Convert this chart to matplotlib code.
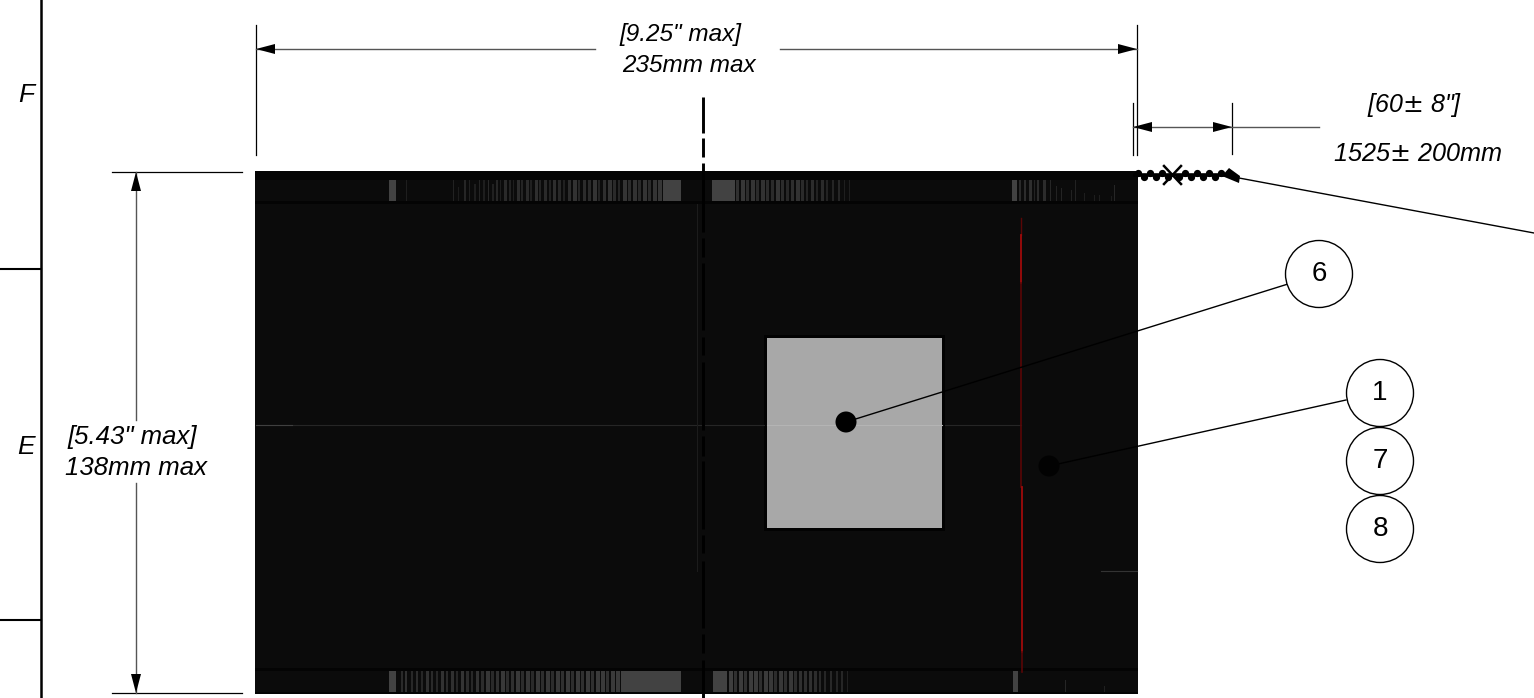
"""Recreates the cable assembly drawing sheet (pixel coordinates, y down)."""

import matplotlib
matplotlib.use("Agg")
import matplotlib.pyplot as plt
from matplotlib.patches import Circle, Rectangle

plt.rcParams["font.family"] = ["Liberation Sans", "DejaVu Sans"]

WIDTH, HEIGHT = 1534, 698

# Drawing values
zone_labels = ["F", "E"]
zone_label_y = [95, 447]
zone_dividers = [269, 620]

balloon_labels = ["6", "1", "7", "8"]
balloon_x = [1319, 1380, 1380, 1380]
balloon_y = [274, 393, 461, 529]

# Solid lighter blocks in the top and bottom bands
top_blocks_x = [389, 663, 712, 1012]
top_blocks_w = [7, 18, 23, 5]
bottom_blocks_x = [389, 621, 713, 1013]
bottom_blocks_w = [7, 60, 14, 5]

# Thin stripes: start, width, height, grey level
top_stripes_x = [406, 453, 458, 464, 469, 474, 479, 483, 488, 492, 496, 500, 504, 509, 513,
                 517, 521, 526, 530, 535, 539, 544, 549, 553, 558, 563, 568, 573, 578, 583,
                 588, 593, 598, 603, 608, 613, 618, 623, 628, 633, 638, 643, 648, 653, 658,
                 736, 741, 746, 751, 756, 761, 766, 771, 776, 781, 786, 791, 796, 801, 806,
                 811, 816, 821, 826, 832, 838, 844, 849,
                 1019, 1024, 1029, 1034, 1037, 1043, 1050, 1056, 1061, 1071, 1075, 1084,
                 1094, 1099, 1111, 1114]
top_stripes_w = [1, 1, 1, 2, 1, 2, 1, 2, 1, 2, 2, 1, 3, 2, 1,
                 3, 2, 3, 2, 3, 2, 3, 2, 3, 3, 2, 3, 4, 2, 3,
                 3, 4, 2, 3, 4, 3, 2, 4, 3, 4, 3, 4, 3, 4, 4,
                 3, 4, 3, 4, 3, 4, 3, 3, 4, 3, 3, 3, 4, 3, 2,
                 3, 2, 3, 2, 2, 2, 1, 1,
                 2, 2, 3, 1, 2, 3, 1, 1, 1, 1, 1, 1,
                 1, 1, 1, 1]
top_stripes_h = [21, 21, 14, 21, 21, 17, 21, 21, 21, 17, 21, 21, 21, 21, 21,
                 21, 21, 21, 21, 21, 21, 21, 21, 21, 21, 21, 21, 21, 21, 21,
                 21, 21, 21, 21, 21, 21, 21, 21, 21, 21, 21, 21, 21, 21, 21,
                 21, 21, 21, 21, 21, 21, 21, 21, 21, 21, 21, 21, 21, 21, 21,
                 21, 21, 21, 21, 21, 21, 21, 21,
                 21, 21, 21, 21, 21, 21, 21, 15, 13, 11, 21, 8,
                 6, 6, 5, 16]
top_stripes_g = ["#1e", "#22", "#1c", "#26", "#20", "#1e", "#24", "#1e", "#28", "#20", "#26", "#1e", "#2a", "#22", "#1e",
                 "#2c", "#24", "#2a", "#20", "#2e", "#24", "#2a", "#22", "#2e", "#28", "#20", "#2c", "#32", "#26", "#2c",
                 "#2a", "#34", "#24", "#2e", "#32", "#2a", "#26", "#34", "#2c", "#32", "#2a", "#34", "#2c", "#34", "#36",
                 "#30", "#36", "#2c", "#34", "#2a", "#32", "#2c", "#2a", "#34", "#2c", "#28", "#2e", "#32", "#2a", "#24",
                 "#2c", "#22", "#2a", "#22", "#24", "#26", "#1e", "#1e",
                 "#2a", "#2c", "#2e", "#22", "#2a", "#2c", "#26", "#22", "#24", "#22", "#22", "#1e",
                 "#1e", "#1e", "#1c", "#26"]

bottom_stripes_x = [401, 405, 411, 416, 421, 426, 431, 436, 441, 446, 451, 456, 461, 466, 471,
                    476, 481, 486, 491, 496, 501, 506, 511, 516, 521, 526, 531, 536, 541, 546,
                    551, 556, 561, 566, 571, 576, 581, 586, 591, 596, 601, 606, 611, 616,
                    729, 734, 739, 744, 749, 754, 759, 764, 769, 774, 779, 784, 789, 794, 799,
                    804, 809, 814, 819, 824, 830, 836, 841, 847,
                    1065, 1104]
bottom_stripes_w = [2, 2, 2, 2, 2, 3, 2, 2, 3, 2, 3, 2, 3, 3, 2,
                    3, 3, 4, 3, 3, 4, 3, 3, 4, 3, 4, 3, 4, 3, 4,
                    3, 4, 3, 4, 3, 4, 3, 4, 3, 4, 4, 3, 4, 4,
                    4, 3, 4, 3, 4, 4, 3, 4, 4, 3, 4, 3, 4, 3, 3,
                    3, 3, 3, 2, 2, 2, 2, 2, 1,
                    1, 1]
bottom_stripes_h = [21, 21, 21, 21, 21, 21, 21, 21, 21, 21, 21, 21, 21, 21, 21,
                    21, 21, 21, 21, 21, 21, 21, 21, 21, 21, 21, 21, 21, 21, 21,
                    21, 21, 21, 21, 21, 21, 21, 21, 21, 21, 21, 21, 21, 21,
                    21, 21, 21, 21, 21, 21, 21, 21, 21, 21, 21, 21, 21, 21, 21,
                    21, 21, 21, 21, 21, 21, 21, 21, 21,
                    12, 6]
bottom_stripes_g = ["#2a", "#30", "#28", "#2c", "#26", "#30", "#2a", "#26", "#32", "#2a", "#30", "#26", "#34", "#2c", "#28",
                    "#32", "#2c", "#36", "#2a", "#30", "#38", "#2c", "#30", "#38", "#2c", "#36", "#2a", "#38", "#2e", "#38",
                    "#2c", "#38", "#30", "#3a", "#2e", "#3a", "#30", "#3a", "#30", "#3a", "#3a", "#30", "#3a", "#3a",
                    "#3e", "#30", "#3c", "#30", "#3c", "#3a", "#2e", "#3a", "#38", "#2c", "#38", "#2e", "#38", "#2c", "#30",
                    "#2e", "#30", "#2c", "#28", "#26", "#28", "#24", "#26", "#20",
                    "#26", "#20"]

cable_upper_x = [1138, 1150, 1162, 1185, 1197, 1209, 1221]
cable_lower_x = [1144, 1156, 1168, 1179, 1191, 1203, 1215]

centre_dash_starts = [97, 138, 163, 238, 263, 337, 362, 436, 461, 535, 561, 634, 660]
centre_dash_ends = [133, 157, 232, 257, 330, 355, 430, 456, 529, 553, 628, 653, 698]

BLACK = "#000000"
BODY = "#0b0b0b"
STRIPE = "#424242"
PANEL = "#a8a8a8"
RED_DIM = "#5a0606"
RED = "#a00a0a"
GREY_LINE = "#555555"


def arrow_head(ax, tip, direction, length=19, half=5):
    """Filled dimension arrow head pointing along direction (unit axis vector)."""
    dx, dy = direction
    bx, by = tip[0] - dx * length, tip[1] - dy * length
    pts = [tip, (bx - dy * half, by - dx * half), (bx + dy * half, by + dx * half)]
    ax.fill([p[0] for p in pts], [p[1] for p in pts], color=BLACK, lw=0, zorder=6)


def label(ax, x, y, text, size=17.5, style="italic"):
    ax.text(x, y, text, fontsize=size, style=style, ha="center", va="center",
            color=BLACK, zorder=8)


def draw_stripes(ax, xs, widths, heights, greys, bottom):
    for x, w, h, g in zip(xs, widths, heights, greys):
        ax.add_patch(Rectangle((x, bottom - h), w, h, fc=g + g[1:] + g[1:], ec="none", zorder=2))


def draw_body(ax):
    ax.add_patch(Rectangle((255, 171), 883, 523, fc=BODY, ec="none", zorder=1))
    for y0, y1 in [(171, 180), (201, 204), (668, 671), (692, 694)]:
        ax.add_patch(Rectangle((255, y0), 883, y1 - y0, fc="#040404", ec="none", zorder=3))

    for x, w in zip(top_blocks_x, top_blocks_w):
        ax.add_patch(Rectangle((x, 180), w, 21, fc=STRIPE, ec="none", zorder=2))
    for x, w in zip(bottom_blocks_x, bottom_blocks_w):
        ax.add_patch(Rectangle((x, 671), w, 21, fc=STRIPE, ec="none", zorder=2))
    draw_stripes(ax, top_stripes_x, top_stripes_w, top_stripes_h, top_stripes_g, 201)
    draw_stripes(ax, bottom_stripes_x, bottom_stripes_w, bottom_stripes_h, bottom_stripes_g, 692)

    # centre panel with its dark frame
    ax.add_patch(Rectangle((764, 335), 181, 196, fc="#020202", ec="none", zorder=2))
    ax.add_patch(Rectangle((767, 338), 175, 190, fc=PANEL, ec="none", zorder=3))

    # faint seams across the body
    ax.plot([256, 764], [425, 425], color="#262626", lw=0.8, zorder=2)
    ax.plot([256, 292], [425, 425], color="#404040", lw=0.8, zorder=2)
    ax.plot([767, 942], [425, 425], color="#b4b4b4", lw=0.8, zorder=4)
    ax.plot([945, 1021], [425, 425], color="#262626", lw=0.8, zorder=2)
    ax.plot([1101, 1137], [571, 571], color="#333333", lw=0.8, zorder=2)
    ax.plot([697, 697], [204, 571], color="#1c1c1c", lw=0.8, zorder=2)

    # red trace, brighter in two stretches
    ax.plot([1021, 1021], [218, 235], color=RED_DIM, lw=1.0, zorder=4)
    ax.plot([1021, 1021], [235, 283], color=RED, lw=1.3, zorder=4)
    ax.plot([1021, 1021], [283, 487], color=RED_DIM, lw=1.2, zorder=4)
    ax.plot([1021.5, 1021.5], [487, 652], color=RED, lw=1.3, zorder=4)
    ax.plot([1021.5, 1021.5], [652, 672], color=RED_DIM, lw=1.2, zorder=4)


def draw_centre_line(ax):
    for y0, y1 in zip(centre_dash_starts, centre_dash_ends):
        ax.plot([703, 703], [y0, y1], color=BLACK, lw=2.1, solid_capstyle="butt", zorder=5)


def draw_dimensions(ax):
    thin = dict(color=BLACK, lw=0.9, zorder=5)
    # overall width
    ax.plot([256, 256], [25, 155], **thin)
    ax.plot([1137, 1137], [25, 155], **thin)
    ax.plot([256, 595], [49, 49], color=GREY_LINE, lw=1, zorder=5)
    ax.plot([780, 1137], [49, 49], color=GREY_LINE, lw=1, zorder=5)
    arrow_head(ax, (256, 49), (-1, 0))
    arrow_head(ax, (1137, 49), (1, 0))
    label(ax, 680, 34, '[9.25" max]')
    label(ax, 689, 65, "235mm max")

    # overall height
    ax.plot([112, 242], [172, 172], **thin)
    ax.plot([112, 242], [693, 693], **thin)
    ax.plot([136, 136], [172, 420], color=GREY_LINE, lw=1, zorder=5)
    ax.plot([136, 136], [483, 693], color=GREY_LINE, lw=1, zorder=5)
    arrow_head(ax, (136, 172), (0, -1))
    arrow_head(ax, (136, 693), (0, 1))
    label(ax, 132, 437, '[5.43" max]', size=18.5)
    label(ax, 136, 468, "138mm max", size=18.5)

    # cable length
    ax.plot([1133, 1133], [103, 155], **thin)
    ax.plot([1232, 1232], [103, 154], **thin)
    ax.plot([1133, 1319], [127, 127], color=GREY_LINE, lw=1, zorder=5)
    arrow_head(ax, (1133, 127), (-1, 0))
    arrow_head(ax, (1232, 127), (1, 0))
    label(ax, 1415, 105, '[60$\\pm$ 8"]', size=18)
    label(ax, 1418, 154, "1525$\\pm$ 200mm", size=18.2)


def draw_cable(ax):
    ax.plot([1135, 1226], [174.5, 174.5], color=BLACK, lw=2.6, zorder=6)
    ax.plot(cable_upper_x, [172.5] * len(cable_upper_x), ls="none", marker="o", ms=4.2,
            color=BLACK, zorder=6)
    ax.plot(cable_lower_x, [176.5] * len(cable_lower_x), ls="none", marker="o", ms=4.2,
            color=BLACK, zorder=6)
    ax.plot([1164, 1181], [166, 184], color=BLACK, lw=1.8, zorder=6)
    ax.plot([1164, 1181], [184, 166], color=BLACK, lw=1.8, zorder=6)
    ax.fill([1222, 1229, 1240, 1239], [176, 168, 176, 183], color=BLACK, lw=0, zorder=6)
    ax.plot([1239, 1534], [178, 233], color=BLACK, lw=1.0, zorder=6)


def draw_balloons(ax):
    ax.add_patch(Circle((846, 422), 10.5, fc=BLACK, ec="none", zorder=6))
    ax.add_patch(Circle((1049, 466), 10.5, fc="#020202", ec="none", zorder=6))
    ax.plot([846, 1288], [422, 284], color=BLACK, lw=1.0, zorder=5)
    ax.plot([1049, 1346], [466, 400], color=BLACK, lw=1.0, zorder=5)
    for x, y, text in zip(balloon_x, balloon_y, balloon_labels):
        ax.add_patch(Circle((x, y), 33.5, fc="white", ec=BLACK, lw=1.0, zorder=6))
        label(ax, x, y, text, size=20, style="normal")


def main():
    fig = plt.figure(figsize=(WIDTH / 100, HEIGHT / 100), dpi=100, facecolor="white")
    ax = fig.add_axes([0, 0, 1, 1])
    ax.set_xlim(0, WIDTH)
    ax.set_ylim(HEIGHT, 0)
    ax.axis("off")

    # sheet border and zone marks
    ax.plot([41, 41], [0, HEIGHT], color=BLACK, lw=1.8, zorder=5)
    for y in zone_dividers:
        ax.plot([0, 41], [y, y], color=BLACK, lw=1.5, zorder=5)
    for text, y in zip(zone_labels, zone_label_y):
        label(ax, 26, y, text, size=19)

    draw_body(ax)
    draw_centre_line(ax)
    draw_dimensions(ax)
    draw_cable(ax)
    draw_balloons(ax)

    fig.savefig("out.png", dpi=100, facecolor="white")


if __name__ == "__main__":
    main()
